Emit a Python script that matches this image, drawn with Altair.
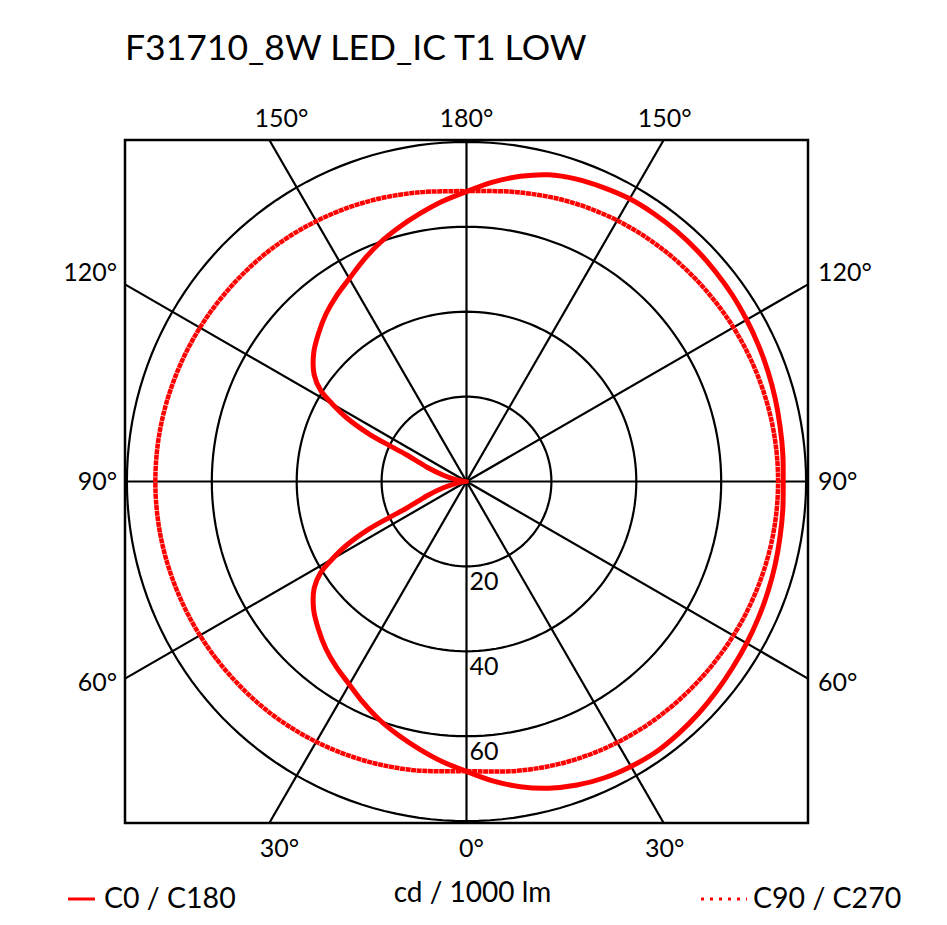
import math
import altair as alt
import pandas as pd

# ---------------- data ----------------
TITLE = "F31710_8W LED_IC T1 LOW"
UNIT_LABEL = "cd / 1000 lm"
LEGEND_SOLID = "C0 / C180"
LEGEND_DOTTED = "C90 / C270"

ring_values = [20, 40, 60, 80]
ring_labels = ["20", "40", "60"]
ray_angles = [0, 30, 60, 90, 120, 150]

# C0 plane (right half), gamma measured from nadir (bottom) to zenith (top)
gamma_c0 = [0, 5, 10, 15, 20, 25, 30, 35, 40, 45, 50, 55, 60, 65, 70, 75, 80, 85, 90,
            95, 100, 105, 110, 115, 120, 125, 130, 135, 140, 145, 150, 155, 160, 165,
            170, 175, 180]
c0 = [68.3, 70.8, 73.0, 74.8, 76.1, 77.0, 77.5, 77.8, 77.6, 77.3, 76.9, 76.5, 76.2,
      75.9, 75.6, 75.3, 75.0, 74.8, 74.6, 74.8, 75.0, 75.3, 75.6, 75.9, 76.2, 76.5,
      76.7, 76.9, 77.0, 77.0, 76.9, 76.4, 75.8, 74.8, 73.0, 70.8, 68.3]

# C180 plane (left half)
gamma_c180 = [0, 5, 10, 15, 20, 25, 30, 35, 40, 45, 50, 55, 58, 60, 62, 64, 65, 66,
              68, 70, 75, 80, 85, 90, 95, 100, 105, 110, 112, 114, 115, 116, 118, 120,
              122, 125, 130, 135, 140, 145, 150, 155, 160, 165, 170, 175, 180]
c180 = [68.3, 66.2, 64.0, 61.9, 59.8, 57.5, 55.2, 53.4, 51.5, 49.3, 47.0, 43.8, 40.5,
        36.5, 32.0, 25.5, 20.0, 15.5, 12.0, 10.0, 5.5, 2.5, 0.8, 0.0, 0.8, 2.5, 5.5,
        10.0, 12.0, 15.5, 20.0, 25.5, 32.0, 36.5, 40.5, 43.8, 47.0, 49.3, 51.5, 53.4,
        55.2, 57.5, 59.8, 61.9, 64.0, 66.2, 68.3]

# C90 (right) and C270 (left) planes
gamma_c90 = [0, 10, 20, 30, 40, 50, 60, 70, 80, 90, 100, 110, 120, 130, 140, 150,
             160, 170, 180]
c90 = [68.2, 69.2, 70.2, 71.0, 71.6, 72.1, 72.6, 73.0, 73.3, 73.4, 73.3, 73.0, 72.6,
       72.1, 71.6, 71.0, 70.2, 69.2, 68.4]
c270 = [68.2, 69.1, 70.0, 70.8, 71.5, 72.0, 72.5, 72.9, 73.2, 73.3, 73.2, 72.9, 72.5,
        72.0, 71.5, 70.8, 70.0, 69.1, 68.4]

# ---------------- geometry helpers ----------------
PX_PER_CD = 4.245           # pixels per cd in the plot
SIDE = 683                  # plot square in px
D = SIDE / 2 / PX_PER_CD    # half domain in cd


def px(v):
    return v / PX_PER_CD


def curve(gammas, values, side, name):
    rows = []
    for i, (g, v) in enumerate(zip(gammas, values)):
        a = math.radians(g)
        rows.append({"x": side * v * math.sin(a), "y": -v * math.cos(a),
                     "o": i, "curve": name})
    return rows


solid_rows = curve(gamma_c0, c0, 1, "C0") + curve(gamma_c180, c180, -1, "C180")
dot_rows = curve(gamma_c90, c90, 1, "C90") + curve(gamma_c90, c270, -1, "C270")
solid_df = pd.DataFrame(solid_rows)
dot_df = pd.DataFrame(dot_rows)

ring_rows = []
for r in ring_values:
    for t in range(0, 361, 2):
        a = math.radians(t)
        ring_rows.append({"x": r * math.cos(a), "y": r * math.sin(a), "t": t, "r": r})
ring_df = pd.DataFrame(ring_rows)

ray_rows = []
for th in ray_angles:
    a = math.radians(th)
    s, c = math.sin(a), math.cos(a)
    m = max(abs(s), abs(c))
    ex, ey = D * s / m, D * c / m
    ray_rows.append({"x": -ex, "y": -ey, "x2": ex, "y2": ey})
ray_df = pd.DataFrame(ray_rows)

t30 = D * math.tan(math.radians(30))
top_lab = pd.DataFrame({
    "x": [-t30 + px(12), 0, t30 + px(1)],
    "y": [D + px(21)] * 3,
    "t": ["150°", "180°", "150°"]})
bot_lab = pd.DataFrame({
    "x": [-t30 + px(10), px(5), t30 + px(1)],
    "y": [-D - px(26)] * 3,
    "t": ["30°", "0°", "30°"]})
left_lab = pd.DataFrame({
    "x": [-D - px(8)] * 3,
    "y": [t30 + px(11), 0, -t30 - px(4)],
    "t": ["120°", "90°", "60°"]})
right_lab = pd.DataFrame({
    "x": [D + px(10)] * 3,
    "y": [t30 + px(11), 0, -t30 - px(4)],
    "t": ["120°", "90°", "60°"]})
ring_lab = pd.DataFrame({
    "x": [px(3)] * 3,
    "y": [-r - px(4) for r in ring_values[:3]],
    "t": ring_labels})

xs = alt.Scale(domain=[-D, D], nice=False, zero=False)
ys = alt.Scale(domain=[-D, D], nice=False, zero=False)
X = alt.X("x:Q", scale=xs, axis=None)
Y = alt.Y("y:Q", scale=ys, axis=None)
FONT = "Lato"

rings = alt.Chart(ring_df).mark_line(color="black", strokeWidth=2.2).encode(
    x=X, y=Y, detail="r:N", order="t:Q")
rays = alt.Chart(ray_df).mark_rule(color="black", strokeWidth=2.2).encode(
    x=X, y=Y, x2="x2:Q", y2="y2:Q")
solid = alt.Chart(solid_df).mark_line(color="#ff0000", strokeWidth=5,
                                      interpolate="catmull-rom").encode(
    x=X, y=Y, detail="curve:N", order="o:Q")
dotted = alt.Chart(dot_df).mark_line(color="#ff0000", strokeWidth=4.5,
                                     strokeDash=[5, 0.6],
                                     interpolate="catmull-rom").encode(
    x=X, y=Y, detail="curve:N", order="o:Q")


def labels(df, align, baseline="middle", size=25):
    return alt.Chart(df).mark_text(align=align, baseline=baseline, font=FONT,
                                   fontSize=size, color="black").encode(
        x=X, y=Y, text="t:N")


title_df = pd.DataFrame({"x": [-D], "y": [D + px(80)], "t": [TITLE]})
unit_df = pd.DataFrame({"x": [px(6)], "y": [-D - px(71)], "t": [UNIT_LABEL]})
leg_y = -D - px(76)
leg_solid_txt = pd.DataFrame({"x": [-D - px(21)], "y": [leg_y], "t": [LEGEND_SOLID]})
leg_dot_txt = pd.DataFrame({"x": [D - px(55)], "y": [leg_y], "t": [LEGEND_DOTTED]})
leg_solid_line = pd.DataFrame({"x": [-D - px(57)], "x2": [-D - px(30)], "y": [leg_y]})
leg_dot_line = pd.DataFrame({"x": [D - px(107)], "x2": [D - px(61)], "y": [leg_y]})

layers = [
    rings, rays, solid, dotted,
    labels(top_lab, "center"), labels(bot_lab, "center"),
    labels(left_lab, "right"), labels(right_lab, "left"),
    labels(ring_lab, "left", "top"),
    labels(title_df, "left", "alphabetic", 35.5),
    labels(unit_df, "center", "middle", 28),
    labels(leg_solid_txt, "left", "middle", 28.5),
    labels(leg_dot_txt, "left", "middle", 28.5),
    alt.Chart(leg_solid_line).mark_rule(color="#ff0000", strokeWidth=3).encode(
        x=X, x2="x2:Q", y=Y),
    alt.Chart(leg_dot_line).mark_rule(color="#ff0000", strokeWidth=3,
                                      strokeDash=[3, 6]).encode(
        x=X, x2="x2:Q", y=Y),
]

chart = alt.layer(*layers).properties(
    width=SIDE, height=SIDE,
    padding={"left": 117, "top": 132, "right": 120, "bottom": 90},
    autosize=alt.AutoSizeParams(type="none"),
).configure_view(stroke="black", strokeWidth=2.5)

chart.save("out.html", embed_options={"renderer": "svg", "actions": False})
